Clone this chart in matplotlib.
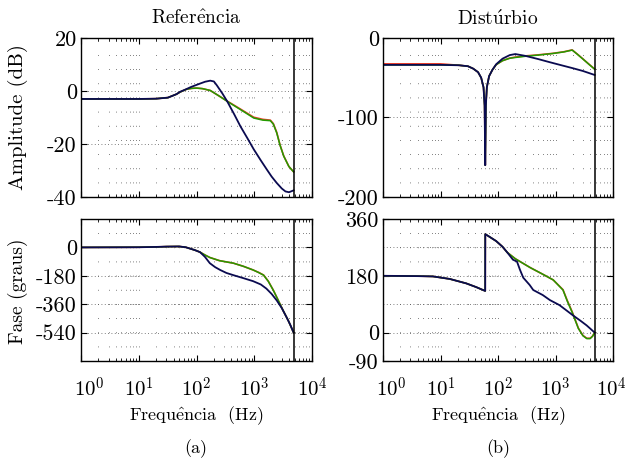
import numpy as np
import matplotlib
matplotlib.use("Agg")
import matplotlib.pyplot as plt
import matplotlib.transforms as mtransforms
from matplotlib.ticker import FixedLocator, NullFormatter, FixedFormatter

plt.rcParams['font.family'] = ['cmr10', 'DejaVu Serif']
plt.rcParams['mathtext.fontset'] = 'cm'
plt.rcParams['axes.unicode_minus'] = False

# ---------------- data ----------------
nyquist = 4800.0

# Referencia - amplitude (dB)
ref_amp_f_navy = [1, 5, 10, 20, 32, 45, 52, 65, 80, 100, 115, 141, 173, 200, 224, 280, 340,
                  450, 575, 760, 980, 1300, 1660, 2000, 2450, 3000, 3470, 4000, 4800]
ref_amp_navy = [-3.0, -3.0, -3.0, -2.9, -2.5, -1.2, -0.3, 0.6, 1.5, 2.3, 2.8, 3.5, 3.9, 3.6, 2.2, -0.9, -3.9,
                -8.8, -13.3, -17.8, -22.0, -26.2, -29.7, -32.3, -34.7, -36.8, -37.9, -38.2, -37.5]
ref_amp_f_green = [1, 5, 10, 20, 32, 45, 52, 60, 68, 83, 100, 126, 173, 251, 340, 575, 980,
                   1410, 1900, 2140, 2450, 2800, 3240, 3980, 4800]
ref_amp_green = [-3.0, -3.0, -3.0, -2.9, -2.5, -1.2, -0.4, 0.2, 0.7, 1.0, 1.1, 0.9, 0.2, -2.0, -3.9, -7.0, -10.2,
                 -11.0, -11.2, -12.5, -15.8, -20.5, -24.6, -28.5, -30.5]
ref_amp_red = [-3.0, -3.0, -3.0, -2.9, -2.5, -1.2, -0.4, 0.2, 0.7, 1.0, 1.1, 0.9, 0.2, -2.0, -3.8, -6.8, -9.9,
               -10.7, -11.0, -12.3, -15.6, -20.4, -24.5, -28.5, -30.5]

# Referencia - fase (graus)
ref_ph_f_navy = [1, 10, 20, 30, 50, 65, 78, 95, 115, 140, 170, 210, 257, 330, 436, 650, 955,
                 1300, 1620, 2000, 2450, 3000, 3630, 4200, 4800]
ref_ph_navy = [0, 1, 3, 5, 6, 1, -8, -18, -30, -60, -100, -125, -143, -162, -176, -195, -214,
               -235, -261, -295, -336, -385, -443, -490, -540]
ref_ph_f_green = [1, 10, 20, 30, 50, 65, 78, 95, 115, 140, 170, 250, 436, 650, 955,
                  1200, 1450, 1750, 2140, 2600, 3160, 3900, 4800]
ref_ph_green = [0, 1, 3, 5, 6, 1, -8, -18, -30, -48, -64, -84, -100, -120, -143,
                -160, -176, -215, -272, -335, -400, -465, -540]
ref_ph_red = [0, 1, 3, 5, 6, 1, -8, -18, -30, -48, -64, -84, -100, -120, -143,
              -159, -175, -214, -271, -335, -400, -465, -540]

# Disturbio - amplitude (dB)
dis_amp_f_navy = [1, 10, 21, 30, 37, 45, 51, 56, 58.5, 60, 61.5, 64, 70, 80, 93, 120, 160, 200,
                  300, 500, 800, 1300, 2000, 3000, 4800]
dis_amp_navy = [-33.8, -33.8, -34.3, -35.5, -38.5, -43.0, -50.0, -62.0, -85.0, -160.0, -85.0, -62.0, -48.0,
                -40.0, -33.0, -26.0, -21.5, -20.2, -22.5, -26.5, -30.5, -34.5, -38.0, -41.5, -46.5]
dis_amp_f_green = [1, 10, 21, 30, 37, 45, 51, 56, 58.5, 60, 61.5, 64, 70, 80, 93, 120, 160, 200,
                   300, 500, 900, 1400, 1950, 2400, 3000, 3800, 4800]
dis_amp_green = [-33.8, -33.8, -34.3, -35.5, -38.5, -43.0, -50.0, -62.0, -85.0, -160.0, -85.0, -62.0, -48.0,
                 -40.0, -33.5, -28.5, -25.5, -24.5, -23.0, -21.5, -19.5, -17.5, -15.2, -20.5, -26.5, -33.0, -39.3]
dis_amp_red = [-32.5, -32.5, -34.3, -35.5, -38.5, -43.0, -50.0, -62.0, -85.0, -160.0, -85.0, -62.0, -48.0,
               -40.0, -33.5, -28.5, -25.3, -24.0, -22.5, -21.2, -19.3, -17.3, -15.0, -20.3, -26.3, -32.8, -39.0]

# Disturbio - fase (graus)
dis_ph_f_navy = [1, 4, 7.4, 14.5, 28, 42, 59.9, 60.1, 72, 93, 120, 145, 182, 214, 240, 275, 355,
                 410, 600, 800, 1175, 2000, 2700, 3470, 4000, 4800]
dis_ph_navy = [180, 179, 178, 170, 156, 144, 132, 312, 303, 290, 272, 254, 231, 225, 200, 174, 151,
               135, 119, 103, 87, 55, 38, 23, 13, 0]
dis_ph_f_green = [1, 4, 7.4, 14.5, 28, 42, 59.9, 60.1, 72, 93, 120, 145, 200, 363, 600, 912,
                  1350, 1600, 1950, 2500, 3000, 3500, 4000, 4400, 4800]
dis_ph_green = [180, 179, 178, 170, 156, 144, 132, 312, 303, 290, 272, 254, 234, 206, 185, 167,
                135, 100, 64, 13, -10, -19, -19, -12, 0]
dis_ph_red = [180, 179, 178, 170, 156, 144, 132, 312, 303, 290, 272, 254, 234, 206, 185, 167,
              136, 102, 66, 14, -9, -18, -18, -11, 0]

xticks = [1, 10, 100, 1000, 10000]
xtick_labels = [r'$10^{0}$', r'$10^{1}$', r'$10^{2}$', r'$10^{3}$', r'$10^{4}$']

titles = ['Refer$\\hat{\\mathrm{e}}$ncia', 'Dist$\\acute{\\mathrm{u}}$rbio']
xlabel = 'Frequ$\\hat{\\mathrm{e}}$ncia  (Hz)'

c_red = '#e8402a'
c_green = '#239a00'
c_navy = '#0a0a50'

# ---------------- figure ----------------
W, H = 627, 463
fig = plt.figure(figsize=(W / 100, H / 100), dpi=100)

def rect(x0, x1, y0, y1):
    return [x0 / W, 1 - y1 / H, (x1 - x0) / W, (y1 - y0) / H]

ax_tl = fig.add_axes(rect(81, 312, 38, 197))
ax_tr = fig.add_axes(rect(383, 613, 38, 197))
ax_bl = fig.add_axes(rect(81, 312, 219, 361))
ax_br = fig.add_axes(rect(383, 613, 219, 361))

minor = [m * 10 ** k for k in range(0, 4) for m in range(2, 10)]
vgrid = [m * 10 ** k for k in range(0, 4) for m in range(1, 10)]

def style(ax, ylim, yticks, ylabels, hgrid, show_x, last_shift=0):
    ax.set_xscale('log')
    ax.set_xlim(1, 1e4)
    ax.set_ylim(*ylim)
    for v in vgrid:
        ax.axvline(v, color='#555555', lw=0.6, ls=(0, (1, 16)), zorder=0.5)
    for h in hgrid:
        ax.axhline(h, color='#555555', lw=0.6, ls=(0, (1, 3)), zorder=0.5)
    ax.xaxis.set_major_locator(FixedLocator(xticks))
    ax.xaxis.set_minor_locator(FixedLocator(minor))
    ax.xaxis.set_minor_formatter(NullFormatter())
    if show_x:
        ax.xaxis.set_major_formatter(FixedFormatter(xtick_labels))
    else:
        ax.xaxis.set_major_formatter(NullFormatter())
    ax.yaxis.set_major_locator(FixedLocator(yticks))
    ax.yaxis.set_major_formatter(FixedFormatter(ylabels))
    ax.tick_params(which='both', direction='in', top=True, right=True)
    ax.tick_params(axis='y', labelsize=16, pad=3)
    ax.tick_params(axis='x', labelsize=15, pad=11)
    ax.tick_params(which='major', length=4, width=0.8)
    ax.tick_params(which='minor', length=2, width=0.6)
    for s in ax.spines.values():
        s.set_linewidth(1.0)
    ax.axvline(nyquist, color='black', lw=1.1, zorder=3)
    if show_x:
        ticks = ax.xaxis.get_major_ticks()
        first = ticks[0].label1
        first.set_transform(first.get_transform() +
                            mtransforms.ScaledTranslation(8 / 100, 0, fig.dpi_scale_trans))
        if last_shift:
            last = ticks[-1].label1
            last.set_transform(last.get_transform() +
                               mtransforms.ScaledTranslation(last_shift / 100, 0, fig.dpi_scale_trans))

def curves(ax, f_rg, red, green, f_n, navy):
    ax.plot(f_rg, red, color=c_red, lw=1.2, zorder=2)
    ax.plot(f_rg, green, color=c_green, lw=1.1, zorder=2.1)
    ax.plot(f_n, navy, color=c_navy, lw=1.3, zorder=2.2)

curves(ax_tl, ref_amp_f_green, ref_amp_red, ref_amp_green, ref_amp_f_navy, ref_amp_navy)
style(ax_tl, (-40, 20), [-40, -20, 0, 20], ['-40', '-20', '0', '20'], [0, -20], False)

curves(ax_tr, dis_amp_f_green, dis_amp_red, dis_amp_green, dis_amp_f_navy, dis_amp_navy)
style(ax_tr, (-200, 0), [-200, -100, 0], ['-200', '-100', '0'], [-100], False)

curves(ax_bl, ref_ph_f_green, ref_ph_red, ref_ph_green, ref_ph_f_navy, ref_ph_navy)
style(ax_bl, (-720, 180), [-540, -360, -180, 0], ['-540', '-360', '-180', '0'], [0, -180, -360, -540], True)

curves(ax_br, dis_ph_f_green, dis_ph_red, dis_ph_green, dis_ph_f_navy, dis_ph_navy)
style(ax_br, (-90, 360), [-90, 0, 180, 360], ['-90', '0', '180', '360'], [0, 90, 180, 270], True,
      last_shift=-2)

fig.text(196 / W, 1 - 19 / H, titles[0], ha='center', va='center', fontsize=14)
fig.text(498 / W, 1 - 19 / H, titles[1], ha='center', va='center', fontsize=14)
fig.text(18 / W, 1 - 117 / H, 'Amplitude (dB)', rotation=90, ha='center', va='center', fontsize=15)
fig.text(18 / W, 1 - 291 / H, 'Fase (graus)', rotation=90, ha='center', va='center', fontsize=14)
fig.text(196 / W, 1 - 416 / H, xlabel, ha='center', va='center', fontsize=13)
fig.text(498 / W, 1 - 416 / H, xlabel, ha='center', va='center', fontsize=13)
fig.text(196 / W, 1 - 449 / H, '(a)', ha='center', va='center', fontsize=13)
fig.text(498 / W, 1 - 449 / H, '(b)', ha='center', va='center', fontsize=13)

fig.savefig('out.png', dpi=100)
